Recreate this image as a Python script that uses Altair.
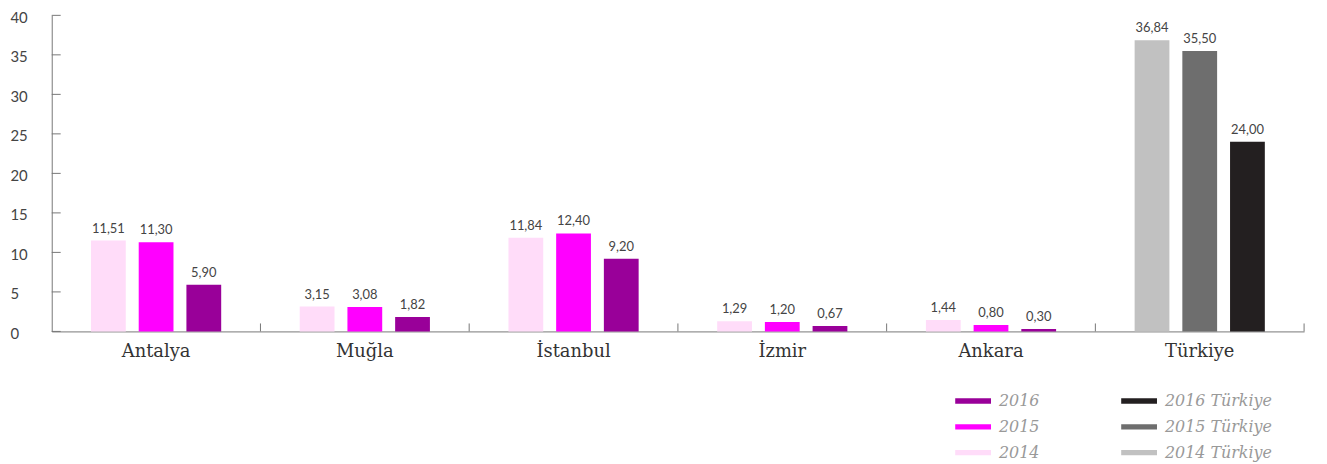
import altair as alt
import pandas as pd

categories = ["Antalya", "Muğla", "İstanbul", "İzmir", "Ankara", "Türkiye"]
years = ["2014", "2015", "2016"]
v2014 = [11.51, 3.15, 11.84, 1.29, 1.44, 36.84]
v2015 = [11.30, 3.08, 12.40, 1.20, 0.80, 35.50]
v2016 = [5.90, 1.82, 9.20, 0.67, 0.30, 24.00]
y_ticks = [0, 5, 10, 15, 20, 25, 30, 35, 40]
region_series = ["2016", "2015", "2014"]
region_colors = ["#990099", "#ff00ff", "#ffdcf9"]
tr_series = ["2016 Türkiye", "2015 Türkiye", "2014 Türkiye"]
tr_colors = ["#231f20", "#6e6e6e", "#c1c1c1"]

rows = []
for i, c in enumerate(categories):
    for yr, vals in zip(years, [v2014, v2015, v2016]):
        s = yr + " Türkiye" if c == "Türkiye" else yr
        rows.append({"cat": c, "year": yr, "value": vals[i], "series": s,
                     "label": f"{vals[i]:.2f}".replace(".", ",")})
df = pd.DataFrame(rows)
df_reg = df[df["cat"] != "Türkiye"]
df_tr = df[df["cat"] == "Türkiye"]
df_y = pd.DataFrame({"value": y_ticks})
df_cat = pd.DataFrame({"cat": categories})

W, H = 1260, 318
AX = "#777777"

x_axis = alt.Axis(title=None, labelAngle=0, ticks=False, domainColor=AX,
                  labelFont="DejaVu Serif", labelFontSize=18, labelColor="#333333",
                  labelPadding=11)
x_scale = alt.Scale(domain=categories, paddingInner=0, paddingOuter=0)
x_enc = alt.X("cat:N", sort=categories, scale=x_scale, axis=x_axis)
xoff = alt.XOffset("year:N", sort=years, scale=alt.Scale(paddingInner=0.271, paddingOuter=0.823))
y_enc = alt.Y("value:Q", scale=alt.Scale(domain=[0, 40], nice=False),
              axis=alt.Axis(title=None, values=y_ticks, tickCount=9, ticks=False, grid=False,
                            labelAlign="left", labelBaseline="middle", labelPadding=42,
                            labelOffset=2,
                            labelFont="Lato", labelFontSize=15, labelColor="#444444",
                            domainColor=AX, labelOverlap=False, labelFlush=False))

legend_common = dict(title=None, orient="none", direction="vertical", rowPadding=0,
                     symbolType="M-1,-0.15L1,-0.15L1,0.15L-1,0.15Z",
                     symbolSize=1296, symbolStrokeWidth=0, symbolOpacity=1,
                     labelFont="DejaVu Serif", labelFontStyle="italic",
                     labelFontSize=16, labelColor="#999999", labelOffset=8, padding=0)

bars_reg = alt.Chart(df_reg).mark_bar().encode(
    x=x_enc, xOffset=xoff, y=y_enc,
    color=alt.Color("series:N", scale=alt.Scale(domain=region_series, range=region_colors),
                    legend=alt.Legend(legendX=909, legendY=370, **legend_common)),
)
bars_tr = alt.Chart(df_tr).mark_bar().encode(
    x=x_enc, xOffset=xoff, y=y_enc,
    fill=alt.Fill("series:N", scale=alt.Scale(domain=tr_series, range=tr_colors),
                  legend=alt.Legend(legendX=1076, legendY=370, **legend_common)),
)

texts = alt.Chart(df).mark_text(baseline="bottom", dy=-5, font="Lato", fontSize=13,
                                color="#444444").encode(
    x=x_enc, xOffset=xoff, y=y_enc, text="label:N")

yticks = alt.Chart(df_y).mark_rule(color=AX).encode(
    y=y_enc, x=alt.value(0), x2=alt.value(9))

xticks = alt.Chart(df_cat).mark_rule(color=AX).encode(
    x=alt.X("cat:N", sort=categories, bandPosition=1, scale=x_scale, axis=x_axis),
    y=alt.value(H - 8), y2=alt.value(H))

chart = alt.layer(bars_reg, bars_tr, texts, yticks, xticks).properties(
    width=W, height=H, autosize="none",
    padding={"left": 44, "top": 6, "right": 15, "bottom": 132},
).configure_view(stroke=None)

chart.save("out.html", embed_options={"renderer": "svg", "actions": False})
